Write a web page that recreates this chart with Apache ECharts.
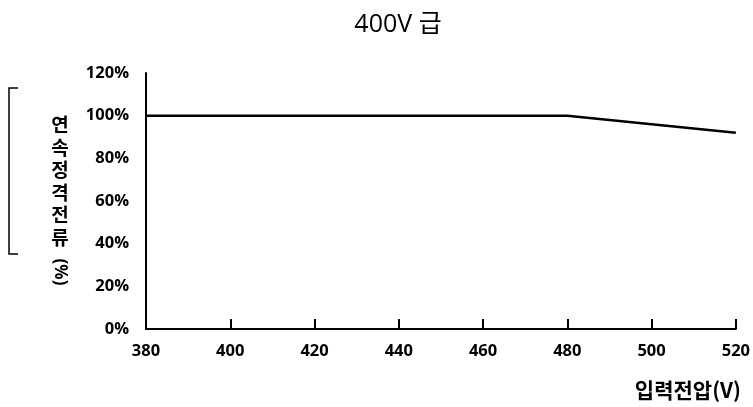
<!DOCTYPE html>
<html><head><meta charset="utf-8">
<script src="https://cdn.jsdelivr.net/npm/echarts@6/dist/echarts.min.js"></script>
<style>html,body{margin:0;padding:0;background:#fff}#c{width:753px;height:407px}</style>
</head><body><div id="c"></div>
<script>
const xValues = [380, 400, 420, 440, 460, 480, 500, 520];
const yValues = [100, 100, 100, 100, 100, 100, 96, 92];
const titleText = '400V 급';
const yNameChars = ['연', '속', '정', '격', '전', '류'];
const yNameUnit = '(%)';
const xName = '입력전압(V)';

const FONT = '"Open Sans", "Noto Sans CJK KR", sans-serif';
const KFONT = '"Noto Sans CJK KR", "Noto Sans", sans-serif';
const chart = echarts.init(document.getElementById('c'));
const xBase = {
  type: 'value', min: 380, max: 520, interval: 20, splitLine: { show: false }
};
chart.setOption({
  animation: false,
  backgroundColor: '#fff',
  title: {
    text: titleText, left: 393, top: 7, textAlign: 'center',
    textStyle: { fontFamily: FONT, fontWeight: 'normal', fontSize: 25, color: '#000' }
  },
  grid: { left: 146, right: 16, top: 73, bottom: 78, containLabel: false },
  xAxis: [
    Object.assign({}, xBase, {
      offset: 5,
      axisLine: { show: false },
      axisTick: { show: true, length: 10, inside: true, lineStyle: { color: '#000', width: 2 } },
      axisLabel: { fontFamily: FONT, fontWeight: 'bold', fontSize: 16.5, color: '#000', margin: 9 }
    }),
    Object.assign({}, xBase, {
      position: 'bottom', offset: 0,
      axisLine: { show: true, onZero: false, lineStyle: { color: '#000', width: 2 } },
      axisTick: { show: false },
      axisLabel: { show: false }
    })
  ],
  yAxis: {
    type: 'value', min: 0, max: 120, interval: 20,
    axisLine: { show: true, lineStyle: { color: '#000', width: 2 } },
    axisTick: { show: false },
    axisLabel: { fontFamily: FONT, fontWeight: 'bold', fontSize: 16.5, color: '#000', margin: 17, formatter: '{value}%' },
    splitLine: { show: false }
  },
  series: [{
    type: 'line', data: xValues.map((x, i) => [x, yValues[i]]),
    showSymbol: false, lineStyle: { color: '#000', width: 2.5 }
  }],
  graphic: [
    { type: 'polyline', shape: { points: [[18, 88], [9, 88], [9, 254], [18, 254]] },
      style: { stroke: '#000', lineWidth: 1.5, fill: null } },
    { type: 'text', x: 60, y: 114,
      style: { text: yNameChars.join('\n'), fontFamily: KFONT, fontWeight: 'bold', fontSize: 19, lineHeight: 22.5,
        fill: '#000', textAlign: 'center', textVerticalAlign: 'top' } },
    { type: 'text', x: 60, y: 272, rotation: -Math.PI / 2,
      style: { text: yNameUnit, fontFamily: FONT, fontWeight: 'bold', fontSize: 17,
        fill: '#000', textAlign: 'center', textVerticalAlign: 'middle' } },
    { type: 'text', x: 741, y: 390,
      style: { text: xName, fontFamily: KFONT, fontWeight: 'bold', fontSize: 21,
        fill: '#000', textAlign: 'right', textVerticalAlign: 'middle' } }
  ]
});
</script></body></html>
